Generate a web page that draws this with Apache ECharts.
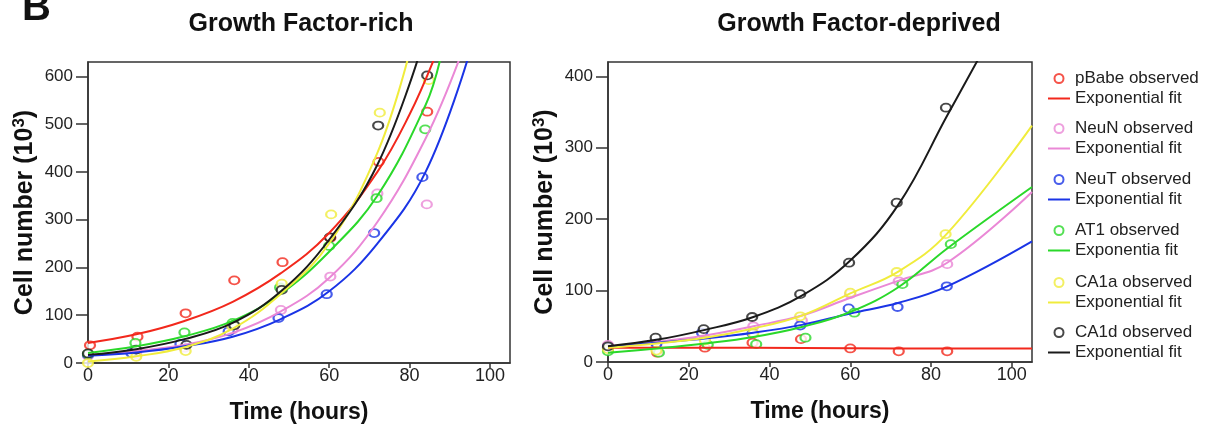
<!DOCTYPE html>
<html>
<head>
<meta charset="utf-8">
<script src="https://cdn.jsdelivr.net/npm/echarts@6/dist/echarts.min.js"></script>
<style>
  html, body { margin: 0; padding: 0; background: #fff; }
  #chart { width: 1218px; height: 430px; }
</style>
</head>
<body>
<div id="chart"></div>
<script>
// cell lines, in legend order
var lines = ["pBabe", "NeuN", "NeuT", "AT1", "CA1a", "CA1d"];
var colors = ["#f2281c", "#ea88d6", "#1a34e6", "#2ad82a", "#f0ec3c", "#1a1a1a"];
var xTicks = [0, 20, 40, 60, 80, 100];

// Growth Factor-rich: observed [hours, cells x10^3]
var richObs = {
  pBabe: [[0.5, 37], [12.3, 55], [24.3, 104], [36.4, 173], [48.4, 211], [60.3, 262], [72.3, 421], [84.4, 526]],
  NeuN: [[0, 15], [12, 18], [24, 32], [36, 70], [48, 111], [60.3, 181], [72, 355], [84.3, 332]],
  NeuT: [[0, 17], [10.8, 21], [23, 40], [35, 66], [47.4, 94], [59.4, 144], [71.2, 272], [83.2, 389]],
  AT1: [[0, 19], [11.8, 42], [24, 64], [36, 84], [47.8, 158], [60, 245], [71.8, 345], [83.9, 489]],
  CA1a: [[0, 0], [12, 13], [24.3, 25], [35.8, 78], [48.2, 166], [60.5, 311], [72.6, 524], [84.8, 592]],
  CA1d: [[0, 20], [12, 28], [24.5, 38], [36.4, 79], [48.2, 153], [60.2, 263], [72.2, 497], [84.4, 602]]
};
// Growth Factor-rich: fitted curves
var richFit = {
  pBabe: [[0, 42], [12, 60], [24, 88], [36, 128], [48, 188], [60, 272], [72, 400], [80, 520], [86, 634]],
  NeuN: [[0, 17], [12, 25], [24, 38], [36, 63], [48, 108], [60, 178], [72, 295], [84, 470], [92.3, 634]],
  NeuT: [[0, 15], [12, 22], [24, 35], [36, 55], [48, 92], [60, 150], [72, 250], [84, 400], [94.4, 634]],
  AT1: [[0, 21], [12, 35], [24, 56], [36, 88], [48, 145], [60, 233], [72, 350], [84, 540], [87.6, 634]],
  CA1a: [[0, 3], [12, 14], [24, 33], [36, 72], [48, 145], [60, 250], [72, 440], [79.5, 634]],
  CA1d: [[0, 17], [12, 29], [24, 50], [36, 84], [48, 150], [60, 258], [72, 415], [82, 634]]
};

// Growth Factor-deprived: observed
var depObs = {
  pBabe: [[0, 20], [12.2, 13], [24, 20], [35.8, 27], [47.8, 32], [60, 19], [72, 15], [84, 15]],
  NeuN: [[0, 24], [12, 20], [24, 33], [36, 50], [48, 58], [60, 95], [72, 113], [84, 137]],
  NeuT: [[0, 20], [12, 26], [23.3, 41], [35.8, 40], [47.6, 51], [59.6, 75], [71.7, 77], [83.9, 106]],
  AT1: [[0, 15], [12.6, 13], [24.7, 24], [36.7, 25], [48.9, 34], [61, 69], [72.9, 109], [84.9, 165]],
  CA1a: [[0, 18], [12, 16], [24, 30], [36, 40], [47.6, 64], [60, 97], [71.5, 126], [83.6, 179]],
  CA1d: [[0, 22], [11.8, 34], [23.7, 46], [35.7, 63], [47.6, 95], [59.7, 139], [71.5, 223], [83.7, 356]]
};
// Growth Factor-deprived: fitted curves
var depFit = {
  pBabe: [[0, 20], [24, 20], [48, 19.5], [72, 19], [105, 19]],
  NeuN: [[0, 22], [12, 28], [24, 37], [36, 50], [48, 65], [60, 90], [72, 114], [84, 139], [105, 238]],
  NeuT: [[0, 21], [12, 27], [24, 33], [36, 41], [48, 52], [60, 68], [72, 83], [84, 106], [105, 169]],
  AT1: [[0, 13], [12, 19], [24, 26], [36, 35], [48, 49], [60, 70], [72, 105], [84, 159], [105, 245]],
  CA1a: [[0, 20], [12, 26], [24, 34], [36, 47], [48, 65], [60, 96], [72, 127], [84, 180], [105, 331]],
  CA1d: [[0, 22], [12, 31], [24, 45], [36, 63], [48, 93], [60, 142], [72, 221], [84, 345], [91.5, 422]]
};

var font = "Liberation Sans";
var fitLabel = { pBabe: "Exponential fit", NeuN: "Exponential fit", NeuT: "Exponential fit",
  AT1: "Exponentia fit", CA1a: "Exponential fit", CA1d: "Exponential fit" };
var legendTops = [70, 120, 171, 222, 274, 324];

var chart = echarts.init(document.getElementById("chart"));

function xAxisFor(gi) {
  return {
    type: "value", gridIndex: gi, min: 0, max: 105, interval: 20,
    name: "Time (hours)", nameLocation: "middle", nameGap: 38,
    nameTextStyle: { fontFamily: font, fontWeight: "bold", fontSize: 23, color: "#111" },
    axisLine: { lineStyle: { color: "#333", width: 1.5 } },
    axisTick: { length: 5, lineStyle: { color: "#333", width: 1.5 }, customValues: xTicks },
    axisLabel: { fontFamily: font, fontSize: 18, color: "#222", margin: 4, customValues: xTicks },
    splitLine: { show: false }
  };
}
function yAxisFor(gi, max, ticks) {
  return {
    type: "value", gridIndex: gi, min: 0, max: max, interval: 100,
    name: "Cell number (10{sup|3})", nameLocation: "middle", nameGap: 48,
    nameTextStyle: { fontFamily: font, fontWeight: "bold", fontSize: 25, color: "#111",
      rich: { sup: { fontFamily: font, fontSize: 17, fontWeight: "bold", color: "#111", verticalAlign: "top", padding: [0, 0, 12, 0] } } },
    axisLine: { lineStyle: { color: "#333", width: 1.5 } },
    axisTick: { length: 12, lineStyle: { color: "#333", width: 1.5 }, customValues: ticks },
    axisLabel: { fontFamily: font, fontSize: 17, color: "#222", margin: 15, customValues: ticks },
    splitLine: { show: false }
  };
}

var series = [];
var legends = [];
lines.forEach(function (name, i) {
  [[richObs, richFit, 0], [depObs, depFit, 1]].forEach(function (set) {
    series.push({
      name: name + " observed", type: "scatter", xAxisIndex: set[2], yAxisIndex: set[2],
      symbol: "emptyCircle", symbolSize: [10, 8],
      itemStyle: { color: colors[i], borderColor: colors[i], borderWidth: 2 },
      data: set[0][name]
    });
    series.push({
      name: name + " fit", type: "line", xAxisIndex: set[2], yAxisIndex: set[2],
      symbol: "none", smooth: 0.4, clip: true,
      lineStyle: { color: colors[i], width: 2 }, itemStyle: { color: colors[i] },
      data: set[1][name]
    });
  });
  legends.push({
    orient: "vertical", left: 1048, top: legendTops[i], padding: 0, itemGap: 3, itemTextGap: 3,
    itemWidth: 22, itemHeight: 9, selectedMode: false,
    textStyle: { fontFamily: font, fontSize: 17, color: "#222" },
    formatter: function (n) { return /fit$/.test(n) ? fitLabel[n.split(" ")[0]] : n; },
    data: [
      { name: name + " observed", icon: "emptyCircle", itemStyle: { borderWidth: 3 } },
      { name: name + " fit", icon: "path://M0,0H22V2H0Z" }
    ]
  });
});

var option = {
  animation: false,
  title: [
    { text: "Growth Factor-rich", left: 296, top: 7, textAlign: "center",
      textStyle: { fontFamily: font, fontWeight: "bold", fontSize: 25, color: "#111" } },
    { text: "Growth Factor-deprived", left: 854, top: 7, textAlign: "center",
      textStyle: { fontFamily: font, fontWeight: "bold", fontSize: 25, color: "#111" } }
  ],
  graphic: [
    { type: "text", left: 22, top: -11, style: { text: "B", fontFamily: font, fontWeight: "bold", fontSize: 40, fill: "#111" } }
  ],
  legend: legends,
  grid: [
    { left: 88, top: 62, width: 422, height: 301, show: true, borderColor: "#333", borderWidth: 1.5 },
    { left: 608, top: 62, width: 424, height: 300, show: true, borderColor: "#333", borderWidth: 1.5 }
  ],
  xAxis: [xAxisFor(0), xAxisFor(1)],
  yAxis: [yAxisFor(0, 630, [0, 100, 200, 300, 400, 500, 600]), yAxisFor(1, 420, [0, 100, 200, 300, 400])],
  series: series
};

option && chart.setOption(option);
</script>
</body>
</html>
